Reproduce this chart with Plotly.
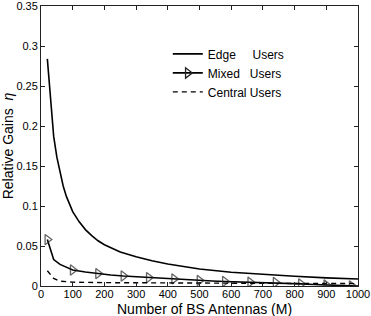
import plotly.graph_objects as go

# Edge users
edge_M = [20, 40, 50, 60, 70, 80, 90, 100, 120, 140, 160, 180, 200, 250, 300, 350, 400, 450, 500, 600, 700,
          800, 900, 1000]
edge_eta = [0.284, 0.187, 0.161, 0.141, 0.125, 0.112, 0.102, 0.093, 0.0805, 0.0705, 0.063, 0.0565, 0.0515,
            0.0425, 0.0365, 0.0315, 0.0275, 0.0240, 0.0212, 0.0172, 0.0144, 0.0121, 0.0102, 0.0087]

# Mixed users
mixed_M = [20, 40, 60, 80, 100, 140, 180, 220, 260, 300, 340, 380, 420, 460, 500, 540, 580, 620, 660, 700,
           740, 780, 820, 860, 900, 940, 980, 1000]
mixed_eta = [0.058, 0.033, 0.027, 0.023, 0.020, 0.0175, 0.0155, 0.0138, 0.0125, 0.0115, 0.0105, 0.0097, 0.0089,
             0.008, 0.0070, 0.0062, 0.0056, 0.0051, 0.0048, 0.0046, 0.0043, 0.0035, 0.0026, 0.0018, 0.0012,
             0.0006, 0.0002, 0.0]
mixed_marker_M = [20, 100, 180, 260, 340, 420, 500, 580, 660, 740, 820, 900, 980]

# Central users
central_M = [20, 40, 60, 80, 100, 200, 300, 400, 500, 600, 700, 800, 900, 1000]
central_eta = [0.019, 0.0095, 0.006, 0.0052, 0.0048, 0.0042, 0.0039, 0.0037, 0.0035, 0.0034, 0.0033, 0.0032,
               0.0031, 0.003]

x_ticks = [0, 100, 200, 300, 400, 500, 600, 700, 800, 900, 1000]
y_ticks = [0, 0.05, 0.1, 0.15, 0.2, 0.25, 0.3, 0.35]
y_tick_labels = ["0", "0.05", "0.1", "0.15", "0.2", "0.25", "0.3", "0.35"]

NB = "\u00a0"
names = ["Edge" + NB * 5 + "Users", "Mixed" + NB * 3 + "Users", "Central" + NB + "Users"]
x_title = "Number of BS Antennas (M)"
y_title = "Relative Gains  <i>η</i>"

marker_style = dict(symbol="triangle-right-open", color="#222", line=dict(width=1.3, color="#222"))

fig = go.Figure()
fig.add_trace(go.Scatter(x=edge_M, y=edge_eta, mode="lines", name=names[0], legendgroup="a",
                         line=dict(color="black", width=1.6)))
marker_sizes = [9 if m in mixed_marker_M else 0 for m in mixed_M]
fig.add_trace(go.Scatter(x=mixed_M, y=mixed_eta, mode="lines+markers", name=names[1], legendgroup="b",
                         showlegend=False, line=dict(color="black", width=1.6),
                         marker=dict(size=marker_sizes, **marker_style)))
# legend-only entry for the mixed series (line + marker symbol)
fig.add_trace(go.Scatter(x=[None], y=[None], mode="lines+markers", name=names[1], legendgroup="b",
                         line=dict(color="black", width=1.6), marker=dict(size=9, **marker_style)))
fig.add_trace(go.Scatter(x=central_M, y=central_eta, mode="lines", name=names[2], legendgroup="c",
                         line=dict(color="black", width=1.4, dash="5px,4px")))

axis_common = dict(showline=True, linecolor="#222", linewidth=1, mirror="ticks", ticks="inside",
                   ticklen=4, tickcolor="#222", showgrid=False, zeroline=False, automargin=False,
                   ticklabeloverflow="allow",
                   tickfont=dict(family="Liberation Sans, Arial", size=11, color="black"))

fig.update_layout(
    width=371, height=316,
    margin=dict(l=41, r=13, t=6, b=30),
    paper_bgcolor="white", plot_bgcolor="white",
    font=dict(family="Liberation Sans, Arial", color="black"),
    xaxis=dict(range=[0, 1000], tickvals=x_ticks, ticklabelstandoff=-2, **axis_common),
    yaxis=dict(range=[0, 0.35001], tickvals=y_ticks, ticktext=y_tick_labels,
               title=dict(text=y_title, font=dict(size=14)),
               **axis_common),
    legend=dict(x=0.40, y=0.761, xanchor="left", yanchor="middle", bgcolor="rgba(0,0,0,0)",
                font=dict(size=12), tracegroupgap=0),
    showlegend=True,
    annotations=[dict(text=x_title, xref="paper", yref="paper", x=0.515, y=-0.083,
                      xanchor="center", yanchor="middle", showarrow=False, font=dict(size=14))],
)

fig.write_html("out.html", config={"displayModeBar": False},
               post_script="document.body.style.margin='0';document.body.style.padding='0';")
